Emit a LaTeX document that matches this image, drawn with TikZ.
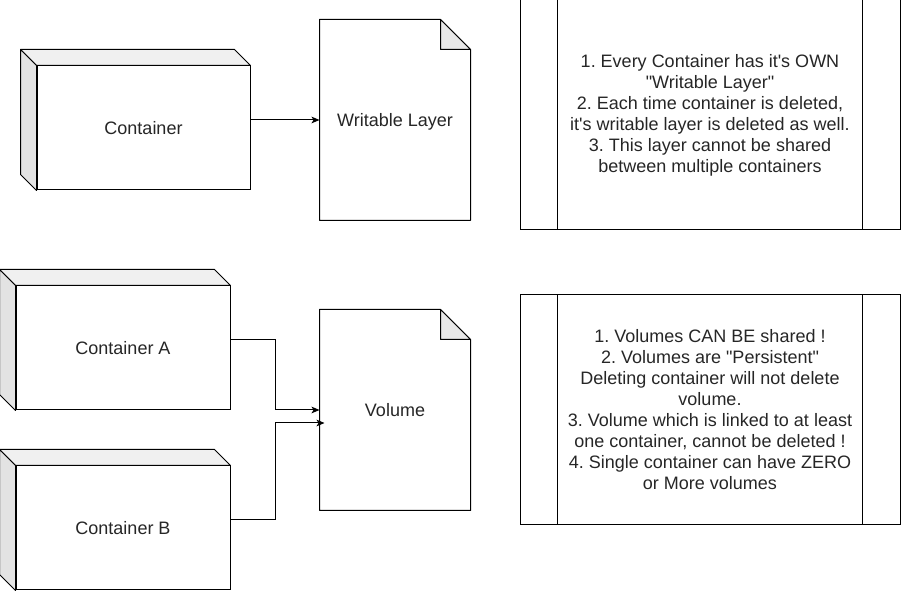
\documentclass[tikz,border=0pt]{standalone}
\usepackage{fontspec}
\setmainfont{Liberation Sans}
\usetikzlibrary{arrows.meta}
\newcommand{\dq}{\textquotedbl}
\newcommand{\sq}{\textquotesingle}
\frenchspacing
\begin{document}
\begin{tikzpicture}[x=0.75pt,y=-0.75pt, line width=0.75pt,
  every node/.style={font=\fontsize{13.5}{15.75}\selectfont, text=black!85},
  front/.style={draw, fill=white, inner sep=0, minimum height=124*0.75pt},
  topface/.style={draw, fill=black!6, line join=round},
  sideface/.style={draw, fill=black!11, line join=round},
  docnode/.style={inner sep=0, minimum width=150*0.75pt, minimum height=200*0.75pt},
  docfold/.style={draw, fill=black!9, line join=round},
  notebox/.style={draw, inner sep=0, minimum width=380*0.75pt, minimum height=230*0.75pt, align=center},
  arr/.style={-{Stealth[length=6pt,width=5pt,inset=1.5pt]}}
]
\useasboundingbox (0,0) rectangle (901,591);

% Top: container
\node[front, minimum width=213*0.75pt] (c1) at (143.5,128) {Container};
\draw[topface] (c1.north west) -- ++(-16,-16) -- ([shift={(-16,-16)}]c1.north east) -- (c1.north east) -- cycle;
\draw[sideface] (c1.north west) -- ++(-16,-16) -- ([shift={(-16,-16)}]c1.south west) -- (c1.south west) -- cycle;

% Writable layer document
\node[docnode] (w) at (395,120) {};
\draw[fill=white, line join=round] (w.north west) -- ([xshift=-22.5pt]w.north east) -- ([yshift=-22.5pt]w.north east) -- (w.south east) -- (w.south west) -- cycle;
\draw[docfold] ([xshift=-22.5pt]w.north east) -- ([xshift=-22.5pt,yshift=-22.5pt]w.north east) -- ([yshift=-22.5pt]w.north east) -- cycle;
\node at ([yshift=-1.2pt]w.center) {Writable Layer};

\draw[arr] (c1.east |- w.west) -- (w.west);

% Bottom: containers A and B
\node[front, minimum width=214*0.75pt] (cA) at (123,348) {Container A};
\draw[topface] (cA.north west) -- ++(-16,-16) -- ([shift={(-16,-16)}]cA.north east) -- (cA.north east) -- cycle;
\draw[sideface] (cA.north west) -- ++(-16,-16) -- ([shift={(-16,-16)}]cA.south west) -- (cA.south west) -- cycle;

\node[front, minimum width=214*0.75pt] (cB) at (123,528) {Container B};
\draw[topface] (cB.north west) -- ++(-16,-16) -- ([shift={(-16,-16)}]cB.north east) -- (cB.north east) -- cycle;
\draw[sideface] (cB.north west) -- ++(-16,-16) -- ([shift={(-16,-16)}]cB.south west) -- (cB.south west) -- cycle;

% Volume document
\node[docnode] (v) at (395,410) {};
\draw[fill=white, line join=round] (v.north west) -- ([xshift=-22.5pt]v.north east) -- ([yshift=-22.5pt]v.north east) -- (v.south east) -- (v.south west) -- cycle;
\draw[docfold] ([xshift=-22.5pt]v.north east) -- ([xshift=-22.5pt,yshift=-22.5pt]v.north east) -- ([yshift=-22.5pt]v.north east) -- cycle;
\node at (v.center) {Volume};

\draw[arr] ([yshift=6pt]cA.east) -- ++(45,0) |- (v.west);
\draw[arr] ([yshift=6pt]cB.east) -- ++(45,0) |- ([shift={(5,13)}]v.west);

% Note boxes
\node[notebox] (n1) at (710,115) {1. Every Container has it\sq s OWN\\\dq Writable Layer\dq\\2. Each time container is deleted,\\it\sq s writable layer is deleted as well.\\3. This layer cannot be shared\\between multiple containers};
\draw ([xshift=28.5pt]n1.north west) -- ([xshift=28.5pt]n1.south west);
\draw ([xshift=-28.5pt]n1.north east) -- ([xshift=-28.5pt]n1.south east);

\node[notebox] (n2) at (710,410) {1. Volumes CAN BE shared !\\2. Volumes are \dq Persistent\dq\\Deleting container will not delete\\volume.\\3. Volume which is linked to at least\\one container, cannot be deleted !\\4. Single container can have ZERO\\or More volumes};
\draw ([xshift=28.5pt]n2.north west) -- ([xshift=28.5pt]n2.south west);
\draw ([xshift=-28.5pt]n2.north east) -- ([xshift=-28.5pt]n2.south east);
\end{tikzpicture}
\end{document}
